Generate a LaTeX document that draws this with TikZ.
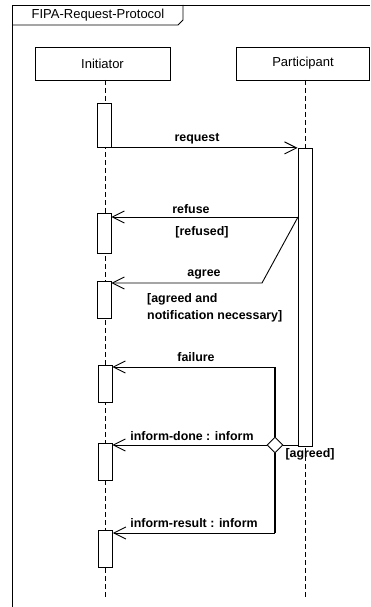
\documentclass[tikz,border=0pt]{standalone}
\usepackage{fontspec}
\setmainfont{Liberation Sans}
\usetikzlibrary{arrows.meta,shapes.geometric}
\begin{document}
\begin{tikzpicture}[x=1pt,y=-1pt,
  ln/.style={line width=0.9pt},
  head/.style={draw,line width=0.9pt,minimum width=135pt,minimum height=33pt,inner sep=0pt,font=\fontsize{13}{15}\selectfont},
  act/.style={draw,line width=0.9pt,fill=white,minimum width=14pt,inner sep=0pt,anchor=north},
  life/.style={line width=0.8pt,dash pattern=on 5pt off 3pt},
  msg/.style={line width=0.9pt,-{Straight Barb[length=12pt,width=12pt]}},
  lbl/.style={font=\bfseries\fontsize{12.4}{17}\selectfont,inner sep=0pt},
  branch/.style={line width=1.5pt},
]
\useasboundingbox (0,0) rectangle (370,607);
% frame
\coordinate (fbl) at (12,607);
\coordinate (ftl) at (12,5);
\coordinate (ftr) at (370,5);
\draw[ln] (fbl) -- (ftl) -- (ftr);
\coordinate (tab1) at (12,25);
\coordinate (tab2) at (178,25);
\coordinate (tab3) at (183,20);
\coordinate (tab4) at (183,5);
\draw[ln] (tab1) -- (tab2) -- (tab3) -- (tab4);
\node[font=\fontsize{13}{15}\selectfont,inner sep=0pt] (title) at (98,15) {FIPA-Request-Protocol};
% heads
\node[head] (ini) at (102.5,63.5) {Initiator};
\node[head,minimum width=133pt] (par) at (303,63.5) {Participant};
% lifelines
\coordinate (itop) at (105,80);
\coordinate (ibot) at (105,598);
\coordinate (ptop) at (305,80);
\coordinate (pbot) at (305,598);
\draw[life] (itop) -- (ibot);
\draw[life] (ptop) -- (pbot);
% activations
\node[act,minimum height=44pt] (a1) at (104,103) {};
\node[act,minimum height=40pt] (a2) at (104,213) {};
\node[act,minimum height=37pt] (a3) at (104,281) {};
\node[act,minimum height=37pt] (a4) at (105,365) {};
\node[act,minimum height=37pt] (a5) at (105,443) {};
\node[act,minimum height=37pt] (a6) at (105.5,530) {};
\node[act,minimum height=298pt] (pa) at (305,148) {};
% request
\draw[msg] (a1.south east) -- (a1.south east -| pa.west);
\node[lbl] (lreq) at (197,139) {request};
% refuse / agree
\coordinate (r0) at (298,217);
\coordinate (g0) at (262,283);
\draw[msg] (r0) -- (r0 -| a2.east);
\draw[msg] (r0) -- (g0) -- (g0 -| a3.east);
\node[lbl] (lref) at (191,209) {refuse};
\node[lbl] (lrefd) at (202,232) {[refused]};
\node[lbl] (lagr) at (204,274) {agree};
\node[lbl,anchor=west,align=left] (lagrd) at (147,308) {[agreed and\\notification necessary]};
% failure / inform
\node[diamond,draw,line width=0.9pt,fill=white,minimum width=16pt,minimum height=16pt,inner sep=0pt] (dia) at (275,445) {};
\coordinate (f0) at (275,367);
\coordinate (f1) at (275,533);
\draw[branch] (dia.north) -- (f0);
\draw[branch] (dia.south) -- (f1);
\draw[msg] (f0) -- (f0 -| a4.east);
\draw[msg] (dia.west) -- (dia.west -| a5.east);
\draw[ln] (dia.east) -- (dia.east -| pa.west);
\draw[msg] (f1) -- (f1 -| a6.east);
\node[lbl] (lfail) at (196,357) {failure};
\node[lbl] (ldone) at (192,436) {inform-done : inform};
\node[lbl] (lagreed) at (310,454) {[agreed]};
\node[lbl] (lres) at (194,523) {inform-result : inform};
\end{tikzpicture}
\end{document}
